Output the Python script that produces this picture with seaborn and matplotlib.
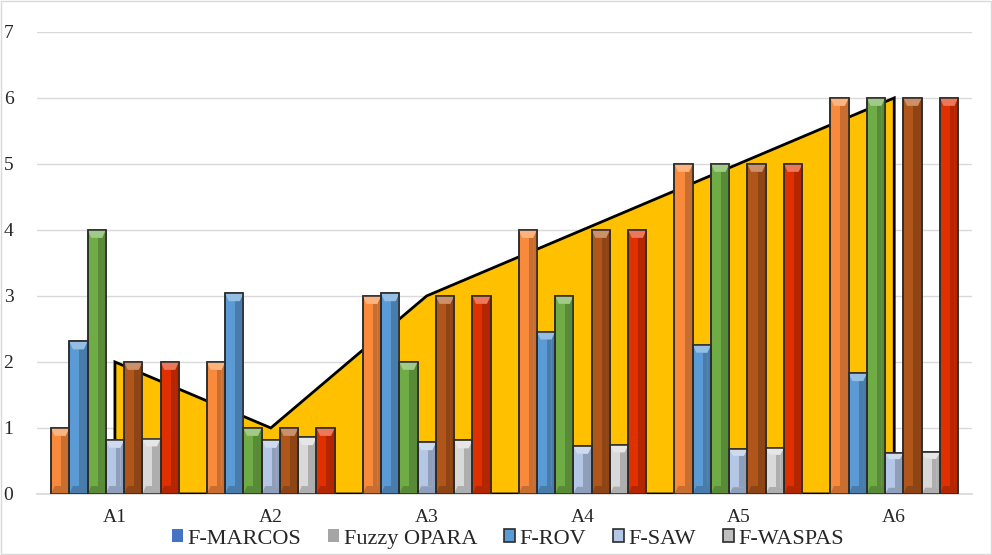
import matplotlib
matplotlib.use("Agg")
import matplotlib.pyplot as plt
from matplotlib.patches import Rectangle, Polygon, Patch
import matplotlib.colors as mcolors
import seaborn as sns
import pandas as pd

# Alternatives on the category axis
alternatives = ["A1", "A2", "A3", "A4", "A5", "A6"]

# Ranking series drawn as bars
rank_a = [1, 2, 3, 4, 5, 6]
rank_b = [4, 1, 2, 3, 5, 6]
rank_c = [2, 1, 3, 4, 5, 6]
rank_d = [2, 1, 3, 4, 5, 6]

# Score series drawn as bars
f_rov = [2.31, 3.04, 3.04, 2.46, 2.26, 1.83]
f_saw = [0.82, 0.82, 0.78, 0.72, 0.68, 0.62]
f_waspas = [0.84, 0.86, 0.81, 0.74, 0.70, 0.63]

# Ranking series drawn as a filled area behind the bars
rank_area = [2, 1, 3, 4, 5, 6]

bar_series = ["Rank a", "F-ROV", "Rank b", "F-SAW", "Rank c", "F-WASPAS", "Rank d"]
bar_values = [rank_a, f_rov, rank_b, f_saw, rank_c, f_waspas, rank_d]
bar_colors = ["#F98A3C", "#5B9BD5", "#6FAC46", "#B4C7E7", "#B0561A", "#D9D9D9", "#E03000"]

legend_labels = ["F-MARCOS", "Fuzzy OPARA", "F-ROV", "F-SAW", "F-WASPAS"]

rows = []
for name, vals in zip(bar_series, bar_values):
    for alt, v in zip(alternatives, vals):
        rows.append({"alt": alt, "series": name, "value": v})
df = pd.DataFrame(rows)

sns.set_theme(style="white")
serif = ["Liberation Serif", "DejaVu Serif"]
plt.rcParams["font.family"] = serif

fig = plt.figure(figsize=(9.92, 5.55), dpi=100)
ax = fig.add_axes([0.0373, 0.110, 0.9427, 0.8325])

# Filled ranking area (category positions 0..5)
pos = list(range(len(alternatives)))
verts = [(pos[0], 0)] + list(zip(pos, rank_area)) + [(pos[-1], 0)]
ax.add_patch(Polygon(verts, closed=True, facecolor="#FFC000",
                     edgecolor="black", linewidth=2.0, zorder=2, joinstyle="miter"))

sns.barplot(data=df, x="alt", y="value", hue="series", hue_order=bar_series,
            palette=bar_colors, width=0.82, dodge=True, ax=ax,
            edgecolor="#2b2b2b", linewidth=1.1, zorder=3, legend=False,
            errorbar=None, saturation=1)

# Bevelled look on each bar
for patch in list(ax.patches):
    if not isinstance(patch, Rectangle):
        continue
    x, y0 = patch.get_x(), patch.get_y()
    w, h = patch.get_width(), patch.get_height()
    if h <= 0 or w <= 0:
        continue
    fc = mcolors.to_rgb(patch.get_facecolor())
    dark = tuple(c * 0.8 for c in fc)
    light = tuple(min(1, c + (1 - c) * 0.35) for c in fc)
    dx = w * 0.2
    dy = min(0.12, h * 0.15)
    # right darker face
    ax.add_patch(Polygon([(x + w * 0.55, y0 + dy), (x + w - dx, y0 + dy),
                          (x + w - dx, y0 + h - dy), (x + w * 0.55, y0 + h - dy)],
                         closed=True, facecolor=dark, edgecolor="none", zorder=3.1))
    ax.add_patch(Polygon([(x + w - dx, y0), (x + w, y0), (x + w, y0 + h),
                          (x + w - dx, y0 + h - dy)],
                         closed=True, facecolor=dark, edgecolor="none", zorder=3.1))
    # top lighter bevel
    ax.add_patch(Polygon([(x, y0 + h), (x + w, y0 + h), (x + w - dx, y0 + h - dy),
                          (x + dx, y0 + h - dy)],
                         closed=True, facecolor=light, edgecolor="none", zorder=3.1))
    # bottom darker bevel
    ax.add_patch(Polygon([(x, y0), (x + w, y0), (x + w - dx, y0 + dy), (x + dx, y0 + dy)],
                         closed=True, facecolor=dark, edgecolor="none", zorder=3.1))
    # outline redrawn on top
    ax.add_patch(Rectangle((x, y0), w, h, facecolor="none", edgecolor="#2b2b2b",
                           linewidth=1.1, zorder=3.2))

ax.set_xlim(-0.5, len(alternatives) - 0.5)
ax.set_ylim(0, 7)
ax.set_yticks(range(0, 8))
ax.yaxis.grid(True, color="#D9D9D9", linewidth=1.0, zorder=0)
ax.set_axisbelow(True)
ax.set_xlabel("")
ax.set_ylabel("")
for s in ["top", "right", "left"]:
    ax.spines[s].set_visible(False)
ax.spines["bottom"].set_color("#D9D9D9")
ax.spines["bottom"].set_zorder(1)
ax.tick_params(axis="y", length=0, pad=17, labelsize=14, colors="#262626")
ax.tick_params(axis="x", length=0, pad=11, labelsize=14, colors="#262626")
for lab in ax.get_xticklabels() + ax.get_yticklabels():
    lab.set_fontfamily(serif)

handles = [
    Patch(facecolor="#4472C4", edgecolor="none"),
    Patch(facecolor="#A5A5A5", edgecolor="none"),
    Patch(facecolor="#5B9BD5", edgecolor="#2b2b2b", linewidth=1.2),
    Patch(facecolor="#B4C7E7", edgecolor="#2b2b2b", linewidth=1.2),
    Patch(facecolor="#BFBFBF", edgecolor="#2b2b2b", linewidth=1.2),
]
fig.legend(handles, legend_labels, loc="center", bbox_to_anchor=(0.512, 0.029),
           ncol=5, frameon=False, handlelength=0.5, handleheight=0.5,
           handletextpad=0.2, columnspacing=1.2, borderpad=0.2,
           prop={"family": serif, "size": 16})

fig.patches.append(Rectangle((0.001, 0.001), 0.998, 0.998, transform=fig.transFigure,
                             facecolor="none", edgecolor="#D9D9D9", linewidth=1.0))

fig.savefig("out.png", dpi=100)
